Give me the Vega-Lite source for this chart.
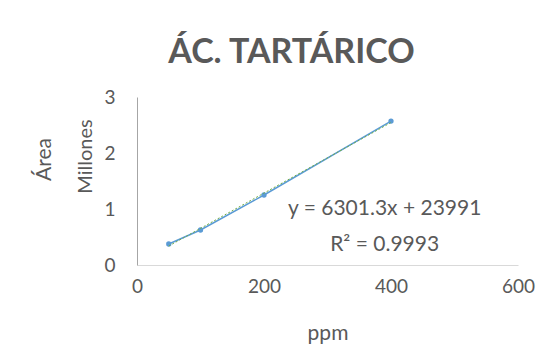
{
  "$schema": "https://vega.github.io/schema/vega-lite/v6.json",
  "width": 381,
  "height": 168,
  "autosize": "none",
  "padding": {"left": 137, "top": 97, "right": 18, "bottom": 91},
  "background": "white",
  "config": {"font": "Lato", "view": {"stroke": null}},
  "title": {"text": "ÁC. TARTÁRICO", "font": "Lato", "fontSize": 34, "fontWeight": "bold", "color": "#595959", "anchor": "middle", "dx": -36, "offset": 18},
  "datasets": {
    "pts": [
      {"ppm": 50, "area": 0.375},
      {"ppm": 100, "area": 0.625},
      {"ppm": 200, "area": 1.25},
      {"ppm": 400, "area": 2.57}
    ],
    "trend": [
      {"ppm": 50, "area": 0.339},
      {"ppm": 400, "area": 2.544}
    ],
    "labels": [
      {"ppm": 390, "area": 1.0, "label": "y = 6301.3x + 23991"},
      {"ppm": 390, "area": 0.36, "label": "R² = 0.9993"}
    ]
  },
  "resolve": {"axis": {"y": "independent"}},
  "layer": [
    {
      "data": {"name": "pts"},
      "mark": {"type": "line", "color": "#5b9bd5", "strokeWidth": 1.5},
      "encoding": {
        "x": {"field": "ppm", "type": "quantitative", "scale": {"domain": [0, 600]},
          "axis": {"title": "ppm", "values": [0, 200, 400, 600], "ticks": false, "grid": false, "labelFlush": false, "domainColor": "#d9d9d9", "labelFontSize": 19, "labelColor": "#595959", "labelPadding": 12, "titleFontSize": 21, "titleFontWeight": "normal", "titleColor": "#595959", "titlePadding": 26}},
        "y": {"field": "area", "type": "quantitative", "scale": {"domain": [0, 3]},
          "axis": {"orient": "left", "title": "Millones", "values": [0, 1, 2, 3], "ticks": false, "grid": false, "labelFlush": false, "domainColor": "#a6a6a6", "labelFontSize": 19, "labelColor": "#595959", "labelPadding": 22, "titleFontSize": 20, "titleFontWeight": "normal", "titleColor": "#595959", "titleX": -52, "titleY": 59, "titleBaseline": "middle", "titleAlign": "center", "titleAngle": -90}}
      }
    },
    {
      "data": {"name": "pts"},
      "mark": {"type": "point", "filled": true, "color": "#5b9bd5", "size": 28, "opacity": 1},
      "encoding": {
        "x": {"field": "ppm", "type": "quantitative"},
        "y": {"field": "area", "type": "quantitative",
          "axis": {"orient": "left", "title": "Área", "labels": false, "ticks": false, "domain": false, "grid": false, "titleFontSize": 21, "titleFontWeight": "normal", "titleColor": "#595959", "titleX": -93, "titleY": 62, "titleBaseline": "middle", "titleAlign": "center", "titleAngle": -90}}
      }
    },
    {
      "data": {"name": "trend"},
      "mark": {"type": "line", "color": "#70ad47", "strokeWidth": 1, "strokeDash": [2, 2]},
      "encoding": {
        "x": {"field": "ppm", "type": "quantitative"},
        "y": {"field": "area", "type": "quantitative", "axis": null}
      }
    },
    {
      "data": {"name": "labels"},
      "mark": {"type": "text", "fontSize": 21, "color": "#595959", "align": "center", "baseline": "middle"},
      "encoding": {
        "x": {"field": "ppm", "type": "quantitative"},
        "y": {"field": "area", "type": "quantitative", "axis": null},
        "text": {"field": "label"}
      }
    }
  ]
}
